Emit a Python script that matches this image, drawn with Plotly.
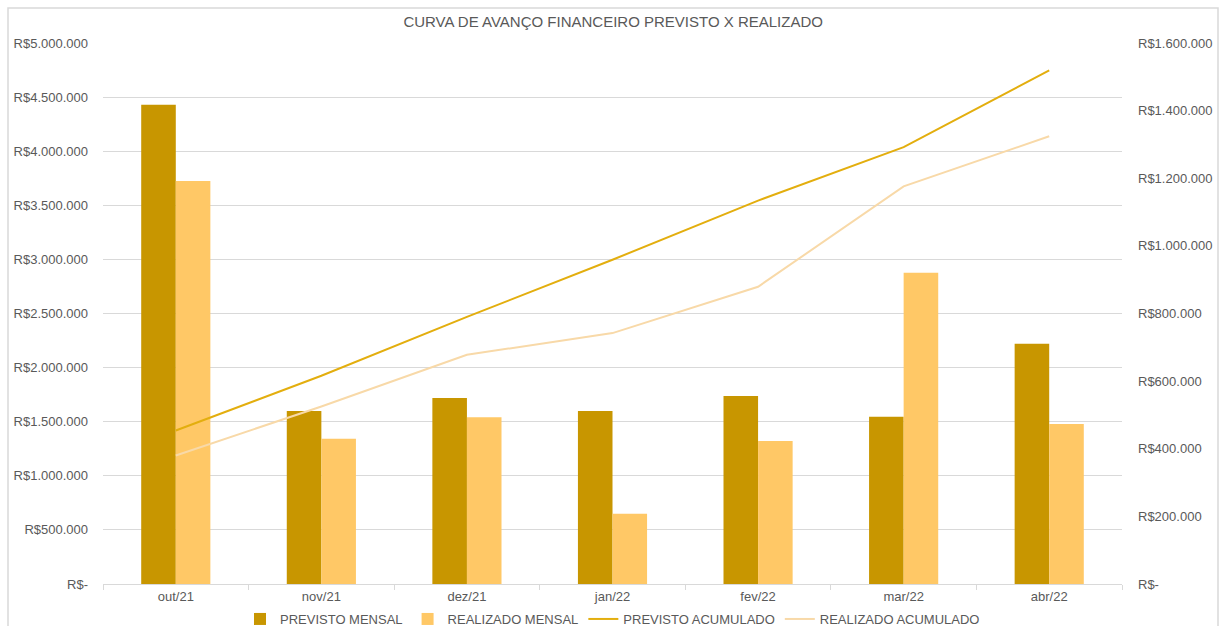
import plotly.graph_objects as go

meses = ["out/21", "nov/21", "dez/21", "jan/22", "fev/22", "mar/22", "abr/22"]
previsto_mensal = [4430000, 1599000, 1719000, 1599000, 1738000, 1546000, 2221000]
realizado_mensal = [3725000, 1343000, 1540000, 650000, 1322000, 2877000, 1479000]
previsto_acumulado = [454000, 616000, 790000, 959000, 1134000, 1292000, 1519000]
realizado_acumulado = [380000, 525000, 678000, 742000, 879000, 1176000, 1324000]

left_ticks = [0, 500000, 1000000, 1500000, 2000000, 2500000, 3000000, 3500000, 4000000, 4500000, 5000000]
right_ticks = [0, 200000, 400000, 600000, 800000, 1000000, 1200000, 1400000, 1600000]


def brl(v):
    if v == 0:
        return "R$-"
    return "R$" + f"{v:,.0f}".replace(",", ".")


C_PREV_M = "#C89600"
C_REAL_M = "#FFC866"
C_PREV_A = "#E3AE0E"
C_REAL_A = "#F8D9A8"
TXT = "#595959"
GRID = "#D9D9D9"
FONT = "Liberation Sans, Arial, sans-serif"

fig = go.Figure()
fig.add_trace(go.Bar(x=meses, y=previsto_mensal, name="PREVISTO MENSAL",
                     marker=dict(color=C_PREV_M, line=dict(width=0))))
fig.add_trace(go.Bar(x=meses, y=realizado_mensal, name="REALIZADO MENSAL",
                     marker=dict(color=C_REAL_M, line=dict(width=0))))
fig.add_trace(go.Scatter(x=meses, y=previsto_acumulado, name="PREVISTO ACUMULADO",
                         mode="lines", line=dict(color=C_PREV_A, width=2), yaxis="y2"))
fig.add_trace(go.Scatter(x=meses, y=realizado_acumulado, name="REALIZADO ACUMULADO",
                         mode="lines", line=dict(color=C_REAL_A, width=2), yaxis="y2"))

L, R, T, B = 103, 97, 43, 42
W, H = 1219, 626
pw = W - L - R
ph = H - T - B


def px_x(p):
    return (p - L) / pw


def px_y(p):
    return (H - B - p) / ph


fig.update_layout(
    width=W, height=H,
    margin=dict(l=L, r=R, t=T, b=B, autoexpand=False),
    paper_bgcolor="white", plot_bgcolor="white",
    font=dict(family=FONT, size=13, color=TXT),
    title=dict(text="CURVA DE AVANÇO FINANCEIRO PREVISTO X REALIZADO",
               x=0.503, xanchor="center", y=1 - 22 / H, yanchor="middle",
               font=dict(family=FONT, size=15, color=TXT)),
    barmode="group", bargap=0.525, bargroupgap=0,
    showlegend=True,
    legend=dict(orientation="h", x=0.5, xanchor="center", y=px_y(619), yanchor="middle",
                font=dict(family=FONT, size=13, color=TXT), traceorder="normal",
                bgcolor="rgba(0,0,0,0)", itemwidth=30),
    xaxis=dict(showgrid=False, showline=True, linecolor=GRID, linewidth=1,
               ticks="outside", ticklen=5, tickcolor=GRID, tickson="boundaries",
               tickfont=dict(family=FONT, size=13, color=TXT), zeroline=False),
    yaxis=dict(range=[0, 5000000], tickvals=left_ticks,
               ticktext=[brl(v) for v in left_ticks],
               showgrid=True, gridcolor=GRID, gridwidth=1, zeroline=False,
               showline=False, ticks="", ticklabelstandoff=14,
               tickfont=dict(family=FONT, size=13, color=TXT)),
    yaxis2=dict(range=[0, 1600000], tickvals=right_ticks,
                ticktext=[brl(v) for v in right_ticks],
                overlaying="y", side="right", showgrid=False, zeroline=False,
                showline=False, ticks="", ticklabelstandoff=15,
                tickfont=dict(family=FONT, size=13, color=TXT)),
    shapes=[dict(type="rect", xref="paper", yref="paper",
                 x0=px_x(8), x1=px_x(1218), y0=px_y(640), y1=px_y(8),
                 line=dict(color=GRID, width=1.5), fillcolor="rgba(0,0,0,0)", layer="below")],
)

fig.write_html("out.html")
